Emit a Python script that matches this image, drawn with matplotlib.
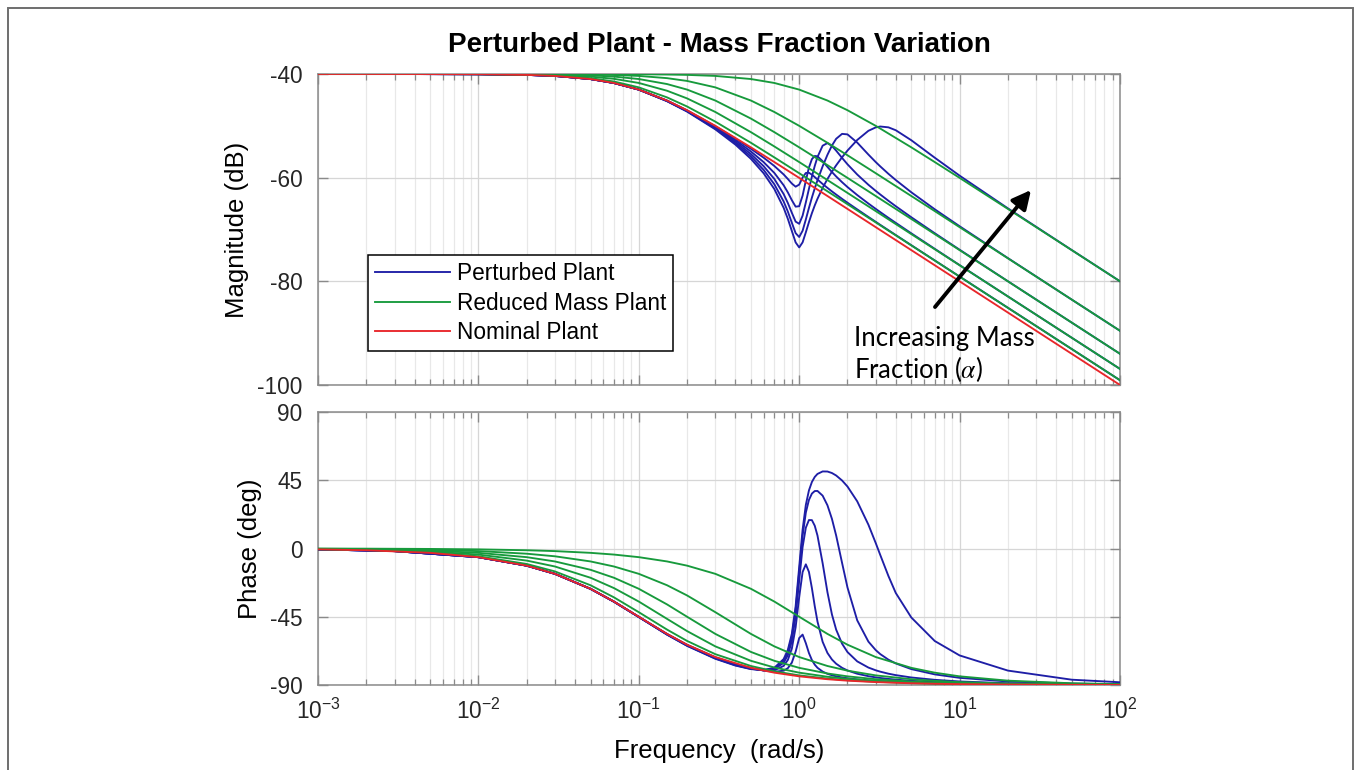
import matplotlib
matplotlib.use("Agg")
import matplotlib.pyplot as plt
from matplotlib.patches import Rectangle
from matplotlib.ticker import LogLocator, NullFormatter

# ---------------- data ----------------
# frequency grid for the first-order (reduced mass / nominal) curves, rad/s
w_lag = [0.001, 0.002, 0.005, 0.01, 0.02, 0.03, 0.05, 0.07, 0.1, 0.15, 0.2, 0.3,
         0.5, 0.7, 1, 1.5, 2, 3, 5, 7, 10, 20, 50, 100]

nominal_mag = [-40.0, -40.0, -40.01, -40.04, -40.17, -40.37, -40.97, -41.73, -43.01, -45.12,
               -46.99, -50.0, -54.15, -56.99, -60.04, -63.54, -66.03, -69.55, -73.98, -76.90,
               -80.0, -86.02, -93.98, -100.0]
nominal_phase = [-0.57, -1.15, -2.86, -5.71, -11.31, -16.70, -26.57, -34.99, -45.0, -56.31,
                 -63.43, -71.57, -78.69, -81.87, -84.29, -86.19, -87.14, -88.09, -88.85, -89.18,
                 -89.43, -89.71, -89.89, -89.94]

reduced_mag_a01 = [-40.0, -40.0, -40.01, -40.04, -40.14, -40.31, -40.80, -41.45, -42.58, -44.51,
                   -46.27, -49.19, -53.27, -56.09, -59.14, -62.63, -65.12, -68.63, -73.07, -75.99,
                   -79.09, -85.11, -93.06, -99.08]
reduced_mag_a03 = [-40.0, -40.0, -40.01, -40.02, -40.08, -40.19, -40.50, -40.93, -41.73, -43.23,
                   -44.71, -47.33, -51.22, -53.98, -56.99, -60.46, -62.94, -66.45, -70.89, -73.81,
                   -76.90, -82.92, -90.88, -96.90]
reduced_mag_a05 = [-40.0, -40.0, -40.0, -40.01, -40.04, -40.10, -40.26, -40.50, -40.97, -41.94,
                   -43.01, -45.12, -48.60, -51.22, -54.15, -57.58, -60.04, -63.54, -67.97, -70.89,
                   -73.98, -80.0, -87.96, -93.98]
reduced_mag_a07 = [-40.0, -40.0, -40.0, -40.0, -40.02, -40.04, -40.10, -40.19, -40.37, -40.80,
                   -41.34, -42.58, -45.12, -47.33, -50.0, -53.27, -55.68, -59.14, -63.54, -66.45,
                   -69.55, -75.56, -83.52, -89.54]
reduced_mag_a09 = [-40.0, -40.0, -40.0, -40.0, -40.0, -40.0, -40.01, -40.02, -40.04, -40.10,
                   -40.17, -40.37, -40.97, -41.73, -43.01, -45.12, -46.99, -50.0, -54.15, -56.99,
                   -60.04, -66.03, -73.98, -80.0]

reduced_phase_a01 = [-0.52, -1.03, -2.58, -5.14, -10.20, -15.11, -24.23, -32.21, -41.99, -53.47,
                     -60.95, -69.68, -77.47, -80.98, -83.66, -85.76, -86.82, -87.88, -88.73, -89.09,
                     -89.36, -89.68, -89.87, -89.94]
reduced_phase_a03 = [-0.40, -0.80, -2.00, -4.00, -7.97, -11.86, -19.29, -26.10, -34.99, -46.40,
                     -54.46, -64.54, -74.05, -78.47, -81.87, -84.56, -85.91, -87.27, -88.36, -88.83,
                     -89.18, -89.59, -89.84, -89.92]
reduced_phase_a05 = [-0.29, -0.57, -1.43, -2.86, -5.71, -8.53, -14.04, -19.29, -26.57, -36.87,
                     -45.0, -56.31, -68.20, -74.05, -78.69, -82.41, -84.29, -86.19, -87.71, -88.36,
                     -88.85, -89.43, -89.77, -89.89]
reduced_phase_a07 = [-0.17, -0.34, -0.86, -1.72, -3.43, -5.14, -8.53, -11.86, -16.70, -24.23,
                     -30.96, -41.99, -56.31, -64.54, -71.57, -77.47, -80.54, -83.66, -86.19, -87.27,
                     -88.09, -89.05, -89.62, -89.81]
reduced_phase_a09 = [-0.06, -0.11, -0.29, -0.57, -1.15, -1.72, -2.86, -4.00, -5.71, -8.53,
                     -11.31, -16.70, -26.57, -34.99, -45.0, -56.31, -63.43, -71.57, -78.69, -81.87,
                     -84.29, -87.14, -88.85, -89.43]

# frequency grid for the perturbed (two-mass) curves, rad/s
w_pert = [0.001, 0.003, 0.01, 0.02, 0.03, 0.05, 0.07, 0.1, 0.15, 0.2, 0.3, 0.4, 0.5, 0.6, 0.7,
          0.8, 0.85, 0.9, 0.95, 1.0, 1.05, 1.1, 1.15, 1.2, 1.25, 1.3, 1.4, 1.5, 1.6, 1.7, 1.85,
          2.0, 2.3, 2.7, 3.0, 3.2, 3.6, 4, 5, 7, 10, 20, 50, 100]

pert_mag_a01 = [-40.0, -40.0, -40.04, -40.17, -40.37, -40.97, -41.74, -43.01,
                -45.13, -47.02, -50.08, -52.46, -54.43, -56.14, -57.75, -59.38, -60.26, -61.14,
                -61.74, -61.34, -59.96, -59.09, -59.06, -59.42, -59.89, -60.35, -61.22, -61.97,
                -62.65, -63.26, -64.09, -64.83, -66.12, -67.58, -68.52, -69.10, -70.14, -71.07,
                -73.03, -75.97, -79.08, -85.10, -93.06, -99.08]
pert_mag_a03 = [-40.0, -40.0, -40.04, -40.17, -40.37, -40.97, -41.74, -43.01,
                -45.16, -47.08, -50.23, -52.77, -54.95, -57.00, -59.09, -61.47, -62.86, -64.35,
                -65.59, -65.51, -63.46, -60.57, -58.04, -56.43, -55.81, -55.88, -56.82, -57.92,
                -58.91, -59.77, -60.87, -61.81, -63.35, -64.99, -66.02, -66.64, -67.75, -68.72,
                -70.74, -73.73, -76.87, -82.91, -90.88, -96.90]
pert_mag_a05 = [-40.0, -40.0, -40.04, -40.17, -40.37, -40.97, -41.74, -43.01,
                -45.19, -47.14, -50.39, -53.06, -55.45, -57.78, -60.25, -63.17, -64.90, -66.79,
                -68.48, -68.90, -67.33, -64.77, -62.16, -59.80, -57.74, -56.02, -53.83, -53.33,
                -53.88, -54.79, -56.18, -57.42, -59.39, -61.37, -62.55, -63.24, -64.46, -65.51,
                -67.64, -70.72, -73.90, -79.98, -87.96, -93.98]
pert_mag_a07 = [-40.0, -40.0, -40.04, -40.17, -40.37, -40.97, -41.74, -43.01,
                -45.22, -47.19, -50.54, -53.35, -55.92, -58.49, -61.28, -64.60, -66.56, -68.71,
                -70.70, -71.45, -70.24, -68.06, -65.84, -63.84, -62.07, -60.50, -57.81, -55.59,
                -53.80, -52.50, -51.55, -51.65, -53.23, -55.54, -56.99, -57.82, -59.26, -60.46,
                -62.82, -66.10, -69.37, -75.52, -83.52, -89.54]
pert_mag_a09 = [-40.0, -40.0, -40.04, -40.17, -40.37, -40.97, -41.74, -43.01,
                -45.25, -47.25, -50.68, -53.62, -56.37, -59.15, -62.20, -65.82, -67.96, -70.30,
                -72.49, -73.46, -72.48, -70.54, -68.58, -66.85, -65.36, -64.08, -61.96, -60.26,
                -58.84, -57.62, -56.07, -54.77, -52.73, -50.96, -50.30, -50.13, -50.29, -50.85,
                -52.78, -56.15, -59.61, -65.92, -73.96, -79.99]

pert_phase_a01 = [-0.58, -1.72, -5.71, -11.31, -16.71, -26.60, -35.05, -45.14,
                  -56.36, -63.52, -71.70, -76.12, -78.80, -80.48, -81.27, -80.56, -78.89, -75.19,
                  -68.03, -59.04, -56.78, -62.43, -68.92, -73.54, -76.59, -78.65, -81.16, -82.62,
                  -83.58, -84.27, -85.01, -85.56, -86.31, -86.97, -87.31, -87.50, -87.80, -88.03,
                  -88.45, -88.90, -89.24, -89.61, -89.85, -89.92]
pert_phase_a03 = [-0.58, -1.72, -5.71, -11.31, -16.71, -26.60, -35.05, -45.14,
                  -56.48, -63.69, -71.96, -76.41, -79.01, -80.37, -80.31, -77.41, -73.46, -65.88,
                  -52.00, -32.01, -15.50, -10.44, -15.43, -26.13, -38.00, -48.15, -61.54, -68.87,
                  -73.19, -75.98, -78.67, -80.42, -82.57, -84.19, -84.97, -85.37, -86.00, -86.47,
                  -87.26, -88.08, -88.68, -89.34, -89.74, -89.86]
pert_phase_a05 = [-0.58, -1.72, -5.71, -11.31, -16.71, -26.60, -35.05, -45.14,
                  -56.59, -63.86, -72.22, -76.69, -79.20, -80.29, -79.60, -75.37, -70.29, -61.04,
                  -44.70, -21.04, 0.91, 13.72, 18.77, 18.71, 15.03, 8.55, -9.71, -28.82,
                  -43.50, -53.51, -62.75, -68.29, -74.42, -78.50, -80.30, -81.20, -82.54, -83.49,
                  -85.04, -86.59, -87.67, -88.84, -89.54, -89.77]
pert_phase_a07 = [-0.58, -1.72, -5.71, -11.31, -16.71, -26.60, -35.05, -45.14,
                  -56.71, -64.04, -72.46, -76.94, -79.38, -80.22, -79.05, -73.95, -68.21, -58.11,
                  -40.65, -15.52, 8.34, 23.67, 32.01, 36.21, 37.88, 37.95, 34.84, 28.49,
                  19.53, 8.53, -9.45, -25.71, -47.37, -61.39, -67.00, -69.61, -73.30, -75.78,
                  -79.52, -83.00, -85.27, -87.69, -89.08, -89.54]
pert_phase_a09 = [-0.58, -1.72, -5.71, -11.31, -16.71, -26.60, -35.05, -45.14,
                  -56.82, -64.19, -72.70, -77.18, -79.53, -80.16, -78.61, -72.90, -66.76, -56.15,
                  -38.10, -12.26, 12.44, 28.78, 38.29, 43.86, 47.18, 49.16, 50.81, 50.76,
                  49.76, 48.13, 44.85, 40.85, 31.10, 15.72, 3.59, -4.21, -18.15, -29.32,
                  -45.50, -61.00, -70.50, -80.50, -86.50, -88.20]

legend_labels = ["Perturbed Plant", "Reduced Mass Plant", "Nominal Plant"]
mag_yticks = [-100, -80, -60, -40]
phase_yticks = [-90, -45, 0, 45, 90]

pert_mags = [pert_mag_a01, pert_mag_a03, pert_mag_a05, pert_mag_a07, pert_mag_a09]
pert_phases = [pert_phase_a01, pert_phase_a03, pert_phase_a05, pert_phase_a07, pert_phase_a09]
red_mags = [reduced_mag_a01, reduced_mag_a03, reduced_mag_a05, reduced_mag_a07, reduced_mag_a09]
red_phases = [reduced_phase_a01, reduced_phase_a03, reduced_phase_a05, reduced_phase_a07,
              reduced_phase_a09]

# ---------------- styling ----------------
plt.rcParams['font.family'] = ['Liberation Sans', 'DejaVu Sans']
plt.rcParams['mathtext.fontset'] = 'custom'
plt.rcParams['mathtext.rm'] = 'Liberation Sans'
plt.rcParams['mathtext.it'] = 'Liberation Sans:italic'
plt.rcParams['mathtext.bf'] = 'Liberation Sans:bold'
plt.rcParams['axes.unicode_minus'] = False

BLUE = '#1e1ea6'
GREEN = '#179a3c'
RED = '#e8262a'
SPINE = '#8a8a8a'
TXT = '#262626'
LW = 1.35

W, H = 1356, 770
fig = plt.figure(figsize=(W / 100, H / 100), dpi=100)
ax1 = fig.add_axes([318 / W, 1 - 385 / H, 802 / W, 311 / H])
ax2 = fig.add_axes([318 / W, 1 - 685 / H, 802 / W, 273 / H])

# outer frame of the figure
fig.patches.append(Rectangle((8 / W, -0.02), (1353 - 8) / W, 1.02 - 8 / H,
                             transform=fig.transFigure, fill=False,
                             edgecolor='#6e6e6e', linewidth=1.4))

h_blue = h_green = h_red = None
for m, p in zip(pert_mags, pert_phases):
    h_blue, = ax1.semilogx(w_pert, m, color=BLUE, lw=LW, zorder=3)
    ax2.semilogx(w_pert, p, color=BLUE, lw=LW, zorder=3)
for m, p in zip(red_mags, red_phases):
    h_green, = ax1.semilogx(w_lag, m, color=GREEN, lw=LW, zorder=4)
    ax2.semilogx(w_lag, p, color=GREEN, lw=LW, zorder=4)
h_red, = ax1.semilogx(w_lag, nominal_mag, color=RED, lw=LW, zorder=5)
ax2.semilogx(w_lag, nominal_phase, color=RED, lw=LW, zorder=5)

for ax in (ax1, ax2):
    ax.set_xlim(1e-3, 1e2)
    ax.xaxis.set_major_locator(LogLocator(base=10, numticks=20))
    ax.xaxis.set_minor_locator(LogLocator(base=10, subs=(2, 3, 4, 5, 6, 7, 8, 9), numticks=200))
    ax.xaxis.set_minor_formatter(NullFormatter())
    ax.set_axisbelow(True)
    ax.grid(True, which='major', color='#d6d6d6', lw=0.9)
    ax.grid(True, which='minor', axis='x', color='#e8e8e8', lw=0.9)
    ax.tick_params(which='both', direction='in', top=True, right=True, color=SPINE,
                   labelcolor=TXT, labelsize=16.3)
    ax.tick_params(which='major', length=7, width=1)
    ax.tick_params(which='minor', length=4, width=0.9)
    ax.tick_params(axis='y', pad=11)
    for s in ax.spines.values():
        s.set_color(SPINE)
        s.set_linewidth(1.1)

ax1.set_ylim(-100, -40)
ax1.set_yticks(mag_yticks)
ax1.tick_params(labelbottom=False)
ax2.set_ylim(-90, 90)
ax2.set_yticks(phase_yticks)
ax2.tick_params(axis='x', pad=10)

ax1.set_ylabel('Magnitude (dB)', fontsize=18.5, color='black', labelpad=6)
ax2.set_ylabel('Phase (deg)', fontsize=18.5, color='black', labelpad=6)
ax2.set_xlabel('Frequency  (rad/s)', fontsize=18.5, color='black', labelpad=11)
ax1.set_title('Perturbed Plant - Mass Fraction Variation', fontsize=20, fontweight='bold',
              pad=16)

leg = ax1.legend([h_blue, h_green, h_red], legend_labels, loc='upper left',
                 bbox_to_anchor=(50 / 802, 130 / 311), fontsize=16.3, frameon=True,
                 fancybox=False, edgecolor='black', framealpha=1, handlelength=3.3,
                 handletextpad=0.35, labelspacing=0.3, borderpad=0.3, borderaxespad=0)
leg.get_frame().set_linewidth(1.1)
for t in leg.get_texts():
    t.set_color('black')

# annotation arrow and text
ax1.annotate('', xy=(713 / 802, 195 / 311), xytext=(617 / 802, 78 / 311),
             xycoords='axes fraction', textcoords='axes fraction',
             arrowprops=dict(arrowstyle='-|>', color='black', lw=2.8, mutation_scale=28,
                             shrinkA=0, shrinkB=0), zorder=6)
ax1.text(536 / 802, 39.3 / 311, 'Increasing Mass', transform=ax1.transAxes,
         fontsize=18.5, family=['Lato', 'DejaVu Sans'], va='baseline', ha='left',
         clip_on=False, zorder=7)
ax1.text(536 / 802, 7 / 311, r'Fraction ($\alpha$)', transform=ax1.transAxes,
         fontsize=18.5, family=['Lato', 'DejaVu Sans'], va='baseline', ha='left',
         clip_on=False, zorder=7, math_fontfamily='stix')

fig.savefig('out.png', dpi=100)
